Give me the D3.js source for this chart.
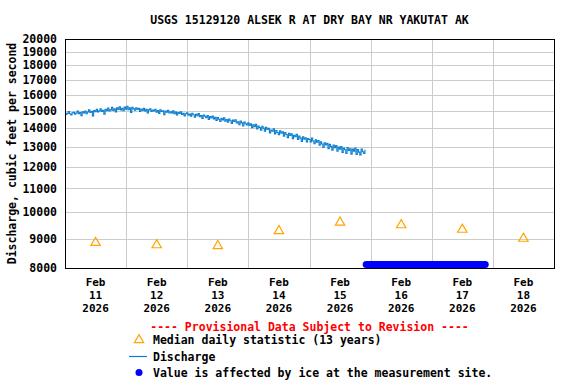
<!DOCTYPE html>
<html>
<head>
<meta charset="utf-8">
<script src="https://cdn.jsdelivr.net/npm/d3@7"></script>
<style>
  html, body { margin: 0; padding: 0; background: #fff; }
  text { font-family: "DejaVu Sans Mono", monospace; font-weight: bold; }
</style>
</head>
<body>
<svg id="chart" width="576" height="384"></svg>
<script>
// ---------------- DATA ----------------
const title = "USGS 15129120 ALSEK R AT DRY BAY NR YAKUTAT AK";
const yLabel = "Discharge, cubic feet per second";
const yTicks = [8000, 9000, 10000, 11000, 12000, 13000, 14000, 15000, 16000, 17000, 18000, 19000, 20000];
const dayLabels = ["2026-02-11", "2026-02-12", "2026-02-13", "2026-02-14", "2026-02-15", "2026-02-16", "2026-02-17", "2026-02-18"];
const medianValues = [8850, 8770, 8740, 9280, 9600, 9500, 9330, 9000];

// discharge, 30-minute readings starting Feb 11 2026 00:00
const dischargeStart = "2026-02-11T00:00";
const dischargeStepMinutes = 30;
const dischargeValues = [
  14900, 14790, 14850, 14960, 14830, 14760, 14880, 14920, 14810, 14870, 14990, 14840,
  14900, 14720, 14950, 14880, 14990, 14830, 14930, 15060, 14900, 14980, 14700, 15020,
  14950, 15090, 14930, 15000, 15130, 14960, 15040, 14800, 15100, 15010, 15170, 14990,
  15060, 15210, 15030, 15120, 14940, 15180, 15090, 15250, 15060, 15150, 15010, 15230,
  15100, 15280, 15070, 15180, 14900, 15210, 15120, 15040, 15190, 15080, 15150, 14960,
  15110, 15030, 15160, 15000, 15090, 14880, 15060, 15130, 14970, 15050, 14990, 15100,
  14920, 15020, 14850, 15060, 14960, 15010, 14780, 14990, 14920, 15040, 14870, 14950,
  14880, 15000, 14830, 14930, 14760, 14900, 14850, 14950, 14790, 14860, 14700, 14830,
  14880, 14740, 14810, 14690, 14850, 14770, 14620, 14790, 14720, 14840, 14650, 14730,
  14560, 14760, 14680, 14600, 14720, 14500, 14660, 14580, 14700, 14530, 14620, 14440,
  14600, 14510, 14380, 14560, 14470, 14590, 14400, 14490, 14330, 14520, 14420, 14270,
  14460, 14380, 14480, 14290, 14360, 14200, 14410, 14300, 14120, 14350, 14250, 14180,
  14300, 14150, 14240, 14020, 14190, 14080, 14220, 13960, 14120, 14040, 13880, 14100,
  14000, 13830, 14050, 13920, 13990, 13740, 13900, 13830, 13960, 13680, 13870, 13760,
  13640, 13850, 13720, 13800, 13560, 13760, 13650, 13480, 13720, 13600, 13690, 13420,
  13610, 13530, 13660, 13380, 13560, 13450, 13280, 13520, 13400, 13470, 13250, 13430,
  13380, 13250, 13460, 13300, 13150, 13360, 13230, 13320, 13080, 13250, 13140, 12960,
  13200, 13090, 13180, 12900, 13120, 13000, 12820, 13080, 12950, 13060, 12760, 12980,
  12870, 13010, 12700, 12930, 12840, 12650, 12960, 12800, 12890, 12620, 12870, 12760,
  12930, 12600, 12850, 12720, 12580, 12880, 12740, 12650, 12810
];

// ice-affected period (plotted at the bottom of the axis)
const iceTimes = ["2026-02-15T22:15", "2026-02-17T21:00"];
const iceValues = [8110, 8110];

const legendHeader = "---- Provisional Data Subject to Revision ----";
const legendItems = ["Median daily statistic (13 years)", "Discharge", "Value is affected by ice at the measurement site."];

// ---------------- CHART ----------------
const parse = d3.utcParse("%Y-%m-%dT%H:%M");
const parseDay = d3.utcParse("%Y-%m-%d");
const svg = d3.select("#chart");
const L = 65, R = 554, T = 39, B = 268;
const fs = 11.5;

const x = d3.scaleUtc()
  .domain([parseDay("2026-02-11"), parseDay("2026-02-19")])
  .range([L, R]);
const y = d3.scaleLog().domain([8000, 20000]).range([B, T]);

// grid
const g = svg.append("g").attr("shape-rendering", "crispEdges");
g.selectAll(".hg").data(yTicks.slice(1, -1)).join("line")
  .attr("x1", L).attr("x2", R)
  .attr("y1", d => Math.round(y(d)) + 0.5).attr("y2", d => Math.round(y(d)) + 0.5)
  .attr("stroke", "#cccccc").attr("stroke-width", 1);
const midnights = d3.utcDay.range(parseDay("2026-02-12"), parseDay("2026-02-19"));
g.selectAll(".vg").data(midnights).join("line")
  .attr("x1", d => Math.round(x(d)) + 0.5).attr("x2", d => Math.round(x(d)) + 0.5)
  .attr("y1", T).attr("y2", B)
  .attr("stroke", "#cccccc").attr("stroke-width", 1);

// discharge line
const t0 = parse(dischargeStart);
const discharge = dischargeValues.map((v, i) => ({ t: d3.utcMinute.offset(t0, i * dischargeStepMinutes), v }));
svg.append("path").datum(discharge)
  .attr("fill", "none").attr("stroke", "#0a7fd0").attr("stroke-width", 1.1)
  .attr("d", d3.line().curve(d3.curveStep).x(d => x(d.t)).y(d => y(d.v)));

// median triangles
const tri = d3.symbol().type(d3.symbolTriangle).size(38);
svg.selectAll(".med").data(medianValues).join("path")
  .attr("d", tri)
  .attr("transform", (d, i) => `translate(${x(d3.utcHour.offset(parseDay(dayLabels[i]), 12))},${y(d)})`)
  .attr("fill", "none").attr("stroke", "#ffa500").attr("stroke-width", 1.2);

// ice band
const ice = iceTimes.map((t, i) => ({ t: parse(t), v: iceValues[i] }));
svg.append("path").datum(ice)
  .attr("fill", "none").attr("stroke", "#0000ff").attr("stroke-width", 7)
  .attr("stroke-linecap", "round")
  .attr("d", d3.line().x(d => x(d.t)).y(d => y(d.v)));

// frame
svg.append("rect").attr("x", L + 0.5).attr("y", T + 0.5)
  .attr("width", R - L).attr("height", B - T)
  .attr("fill", "none").attr("stroke", "#000").attr("stroke-width", 1)
  .attr("shape-rendering", "crispEdges");

// y tick labels
svg.selectAll(".yt").data(yTicks).join("text")
  .attr("x", 57).attr("y", d => y(d)).attr("dy", "0.36em")
  .attr("text-anchor", "end").attr("font-size", fs).text(d => d);

// y label
svg.append("text")
  .attr("transform", `translate(16,${(T + B) / 2}) rotate(-90)`)
  .attr("text-anchor", "middle").attr("font-size", fs).text(yLabel);

// x labels
const fmtMon = d3.utcFormat("%b"), fmtDay = d3.utcFormat("%d"), fmtYr = d3.utcFormat("%Y");
const xfs = 11;
dayLabels.forEach(ds => {
  const d = parseDay(ds);
  const cx = x(d3.utcHour.offset(d, 12));
  [[fmtMon(d), 286], [fmtDay(d), 299], [fmtYr(d), 312]].forEach(([t, yy]) => {
    svg.append("text").attr("x", cx).attr("y", yy)
      .attr("text-anchor", "middle").attr("font-size", xfs).text(t);
  });
});

// title
svg.append("text").attr("x", (L + R) / 2).attr("y", 24)
  .attr("text-anchor", "middle").attr("font-size", fs).text(title);

// legend
svg.append("text").attr("x", (L + R) / 2).attr("y", 331)
  .attr("text-anchor", "middle").attr("font-size", fs).attr("fill", "#ff0000").text(legendHeader);
const lx = 153;
const ly = [340, 356.5, 372.5];
svg.append("path").attr("d", tri).attr("transform", `translate(139,${ly[0]})`)
  .attr("fill", "none").attr("stroke", "#ffa500").attr("stroke-width", 1.2);
svg.append("line").attr("x1", 129).attr("x2", 147).attr("y1", ly[1]).attr("y2", ly[1])
  .attr("stroke", "#0a7fd0").attr("stroke-width", 1.2);
svg.append("circle").attr("cx", 139).attr("cy", ly[2]).attr("r", 3.5).attr("fill", "#0000ff");
legendItems.forEach((t, i) => {
  svg.append("text").attr("x", lx).attr("y", ly[i]).attr("dy", "0.36em")
    .attr("font-size", fs).text(t);
});
</script>
</body>
</html>
